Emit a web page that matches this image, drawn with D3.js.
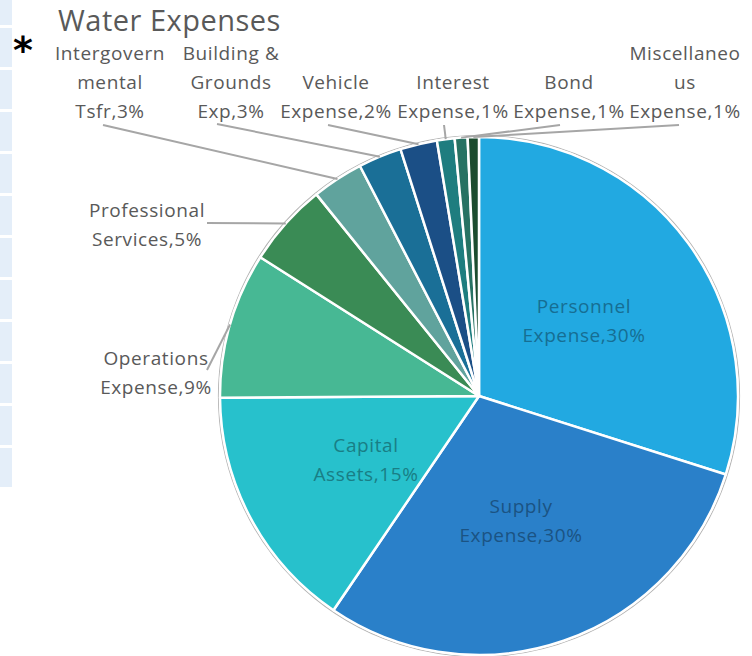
<!DOCTYPE html>
<html>
<head>
<meta charset="utf-8">
<script src="https://cdn.jsdelivr.net/npm/d3@7"></script>
<style>
  body { margin: 0; background: #fff; }
  svg { display: block; }
</style>
</head>
<body>
<script>
// chart data
var categories = ["Personnel Expense", "Supply Expense", "Capital Assets", "Operations Expense",
  "Professional Services", "Intergovernmental Tsfr", "Building & Grounds Exp", "Vehicle Expense",
  "Interest Expense", "Bond Expense", "Miscellaneous Expense"];
var shares = [29.9, 29.6, 15.4, 9.1, 5.2, 3.2, 2.7, 2.3, 1.1, 0.8, 0.7];
var colors = ["#22a9e1", "#2a80c9", "#27c1cc", "#47b894", "#3a8b55", "#60a39d",
  "#1a6f97", "#1b4f86", "#1e7d7f", "#277263", "#1c4c2f"];
// how excel wrapped each label (percentage gets appended to the last line)
var labelWrap = [["Personnel", "Expense,"], ["Supply", "Expense,"], ["Capital", "Assets,"],
  ["Operations", "Expense,"], ["Professional", "Services,"], ["Intergovern", "mental", "Tsfr,"],
  ["Building &", "Grounds", "Exp,"], ["Vehicle", "Expense,"], ["Interest", "Expense,"],
  ["Bond", "Expense,"], ["Miscellaneo", "us", "Expense,"]];

var W = 752, H = 656;
var cx = 479, cy = 396, R = 259;
var lineGap = 29;

// label anchors (centre x, first baseline) and leader line starts, null = inside label
var labelAt = [[584, 313], [521, 513], [366, 452], [156, 365], [147, 217], [110, 60],
  [231, 60], [336, 89], [453, 89], [569, 89], [685, 60]];
var leaderFrom = [null, null, null, [207, 370], [207, 223], [103, 125], [217, 124],
  [328, 125], [444, 125], [560, 125], [679, 125]];

var svg = d3.select("body").append("svg")
  .attr("width", W).attr("height", H);

// spreadsheet cells peeking in on the left
svg.append("g").selectAll("rect")
  .data(d3.range(-14, 490, 42))
  .enter().append("rect")
  .attr("x", 0).attr("y", function (d) { return d; })
  .attr("width", 12).attr("height", 39)
  .attr("fill", "#e4eef9");

svg.append("text")
  .attr("x", 58).attr("y", 31)
  .style("font-family", "'Open Sans', sans-serif")
  .style("font-size", "29px")
  .style("letter-spacing", "0.5px")
  .attr("fill", "#595959")
  .text("Water Expenses");

svg.append("text")
  .attr("x", 13).attr("y", 63)
  .style("font-family", "'DejaVu Sans', sans-serif")
  .style("font-weight", "bold")
  .style("font-size", "38px")
  .attr("fill", "#000")
  .text("*");

var data = categories.map(function (c, i) { return { name: c, value: shares[i], i: i }; });
var pie = d3.pie().sort(null).value(function (d) { return d.value; });
var arcs = pie(data);
var arc = d3.arc().innerRadius(0).outerRadius(R);

var g = svg.append("g").attr("transform", "translate(" + cx + "," + cy + ")");

g.append("circle").attr("r", R + 1.5)
  .attr("fill", "none").attr("stroke", "#b4b4b4").attr("stroke-width", 1.2);

g.selectAll("path.slice")
  .data(arcs)
  .enter().append("path")
  .attr("class", "slice")
  .attr("d", arc)
  .attr("fill", function (d) { return colors[d.data.i]; })
  .attr("stroke", "#fff")
  .attr("stroke-width", 2.5)
  .attr("stroke-linejoin", "round");

// leader lines run from the label to the slice edge at its mid angle
arcs.forEach(function (a, i) {
  if (!leaderFrom[i]) return;
  var mid = (a.startAngle + a.endAngle) / 2;
  var ex = cx + R * Math.sin(mid), ey = cy - R * Math.cos(mid);
  svg.append("line")
    .attr("x1", leaderFrom[i][0]).attr("y1", leaderFrom[i][1])
    .attr("x2", ex).attr("y2", ey)
    .attr("stroke", "#a6a6a6").attr("stroke-width", 2);
});

arcs.forEach(function (a, i) {
  var lines = labelWrap[i].slice();
  lines[lines.length - 1] += Math.round(a.data.value) + "%";
  var inside = !leaderFrom[i];
  var t = svg.append("text")
    .attr("text-anchor", "middle")
    .style("font-family", "'Open Sans', sans-serif")
    .style("font-size", "19px")
    .style("letter-spacing", "0.6px")
    .attr("fill", inside ? d3.color(colors[i]).darker(1.2) : "#595959");
  lines.forEach(function (s, k) {
    t.append("tspan")
      .attr("x", labelAt[i][0])
      .attr("y", labelAt[i][1] + k * lineGap)
      .text(s);
  });
});
</script>
</body>
</html>
